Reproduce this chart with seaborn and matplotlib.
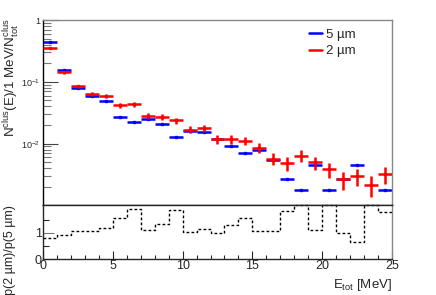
# -*- coding: utf-8 -*-
"""
Cluster energy spectrum for two pixel pitches, with ratio panel underneath.
"""

import numpy as np
import pandas as pd
import matplotlib
matplotlib.use('Agg')
import matplotlib.pyplot as plt
import seaborn as sns
from matplotlib.lines import Line2D
from matplotlib.ticker import FixedLocator, MultipleLocator, NullFormatter

# Energy bins (1 MeV wide), lower edges
e_low = [0, 1, 2, 3, 4, 5, 6, 7, 8, 9, 10, 11, 12, 13, 14, 15, 16, 17, 18, 19,
         20, 21, 22, 23, 24]
bin_width = 1.0

# N^clus(E) / 1 MeV / N^clus_tot, 5 um (blue); 0 = empty bin
frac_5um = [0.435, 0.155, 0.0782, 0.0593, 0.0487, 0.0268, 0.0225, 0.0250,
            0.0206, 0.0126, 0.0161, 0.0153, 0.0118, 0.0090, 0.0071, 0.0080,
            0.0054, 0.00265, 0.00176, 0.00447, 0.00176, 0.00265, 0.00447,
            0.0, 0.00176]

# same for 2 um (red), with statistical errors
frac_2um = [0.348, 0.142, 0.0853, 0.0632, 0.0587, 0.0419, 0.0430, 0.0281,
            0.0273, 0.0237, 0.0169, 0.0176, 0.0119, 0.0118, 0.0112, 0.0086,
            0.00574, 0.00487, 0.00641, 0.0050, 0.00385, 0.00265, 0.00296,
            0.00217, 0.00319]
err_2um = [0.0100, 0.0064, 0.0050, 0.0043, 0.0041, 0.0035, 0.0035, 0.0029,
           0.0028, 0.0026, 0.0022, 0.0023, 0.0019, 0.0018, 0.0018, 0.0016,
           0.0013, 0.0012, 0.0014, 0.0012, 0.0011, 0.00088, 0.00093,
           0.00079, 0.00096]

labels = ['5 \u00b5m', '2 \u00b5m']
colors = ['#0000ff', '#ff0000']

RATIO_MAX = 2.05

sns.set_theme(style='ticks')
plt.rcParams['font.family'] = ['Liberation Sans', 'DejaVu Sans']
plt.rcParams['mathtext.fontset'] = 'custom'
plt.rcParams['mathtext.rm'] = 'Liberation Sans'
plt.rcParams['mathtext.it'] = 'Liberation Sans'
plt.rcParams['mathtext.bf'] = 'Liberation Sans'


def main():
    lo = np.array(e_low, dtype=float)
    centres = lo + bin_width / 2
    blue = np.array(frac_5um)
    red = np.array(frac_2um)

    fig = plt.figure(figsize=(4.36, 2.95), dpi=100)
    ax = fig.add_axes([0.0986, 0.3034, 0.8005, 0.6288])
    axr = fig.add_axes([0.0986, 0.122, 0.8005, 0.1814])

    # --- top panel: spectra
    ok = blue > 0
    ax.errorbar(centres[ok], blue[ok], xerr=bin_width / 2, fmt='s',
                ms=1.5, color=colors[0], elinewidth=1.8, capsize=0, zorder=2)
    ax.errorbar(centres, red, xerr=bin_width / 2, yerr=err_2um, fmt='s',
                ms=1.5, color=colors[1], elinewidth=1.8, capsize=0, zorder=3)

    ax.set_yscale('log')
    ax.set_xlim(0, 25)
    ax.set_ylim(1e-3, 1)
    ax.yaxis.set_major_locator(FixedLocator([1e-2, 1e-1, 1]))
    ax.set_yticklabels([r'$10^{-2}$', r'$10^{-1}$', '1'])
    minors = [m * 10.0 ** d for d in (-3, -2, -1) for m in range(2, 10)]
    ax.yaxis.set_minor_locator(FixedLocator(minors))
    ax.yaxis.set_minor_formatter(NullFormatter())
    ax.tick_params(axis='y', which='major', direction='in', length=11,
                   width=0.8, color='#444444', labelsize=6.5, pad=2)
    ax.tick_params(axis='y', which='minor', direction='in', length=6,
                   width=0.8, color='#777777')
    ax.tick_params(axis='x', which='both', bottom=False, labelbottom=False)
    for side in ('top', 'right'):
        ax.spines[side].set_color('#888888')
    ax.spines['left'].set_color('black')
    ax.spines['bottom'].set_color('black')
    for s in ax.spines.values():
        s.set_linewidth(1.0)

    handles = [Line2D([], [], color=c, lw=1.8) for c in colors]
    ax.legend(handles, labels, loc='upper left', bbox_to_anchor=(0.74, 0.995),
              frameon=False, fontsize=9.5, handlelength=1.0,
              handletextpad=0.3, labelspacing=0.3, borderaxespad=0.2)

    # --- bottom panel: ratio red / blue, clipped at the top of the pad
    ratio = np.divide(red, blue, out=np.full_like(red, np.inf), where=blue > 0)
    ratio = np.clip(ratio, 0, RATIO_MAX)
    df_ratio = pd.DataFrame({
        'edge': np.append(lo, lo[-1] + bin_width),
        'ratio': np.append(ratio, ratio[-1]),
    })
    sns.lineplot(data=df_ratio, x='edge', y='ratio', drawstyle='steps-post',
                 estimator=None, color='black', lw=1.0,
                 linestyle=(0, (2, 1.6)), ax=axr, clip_on=False)

    axr.set_xlim(0, 25)
    axr.set_ylim(0, RATIO_MAX)
    axr.set_xlabel('')
    axr.set_ylabel('')
    axr.xaxis.set_major_locator(MultipleLocator(5))
    axr.xaxis.set_minor_locator(MultipleLocator(1))
    axr.yaxis.set_major_locator(FixedLocator([0, 1]))
    axr.yaxis.set_minor_locator(FixedLocator([0.5, 1.5]))
    axr.tick_params(axis='x', which='major', direction='in', length=6,
                    width=0.8, labelsize=9, pad=1)
    axr.tick_params(axis='x', which='minor', direction='in', length=3,
                    width=0.8)
    axr.tick_params(axis='y', which='major', direction='in', length=8,
                    width=0.8, color='#777777', labelsize=9, pad=1)
    axr.tick_params(axis='y', which='minor', direction='in', length=4,
                    width=0.8)
    axr.spines['right'].set_color('#888888')
    for s in axr.spines.values():
        s.set_linewidth(1.0)

    # --- titles, ROOT-like placement
    fig.text(0.004, 0.94,
             r'N$^{clus}$(E)/1 MeV/N$^{clus}_{tot}$',
             rotation=90, ha='left', va='top', fontsize=9.6)
    fig.text(0.010, 0.0, 'p(2 \u00b5m)/p(5 \u00b5m)',
             rotation=90, ha='left', va='bottom', fontsize=9)
    fig.text(0.899, 0.035, r'E$_{tot}$ [MeV]', ha='right', va='center',
             fontsize=9.5)

    fig.savefig('out.png', dpi=100)


if __name__ == "__main__":
    main()
